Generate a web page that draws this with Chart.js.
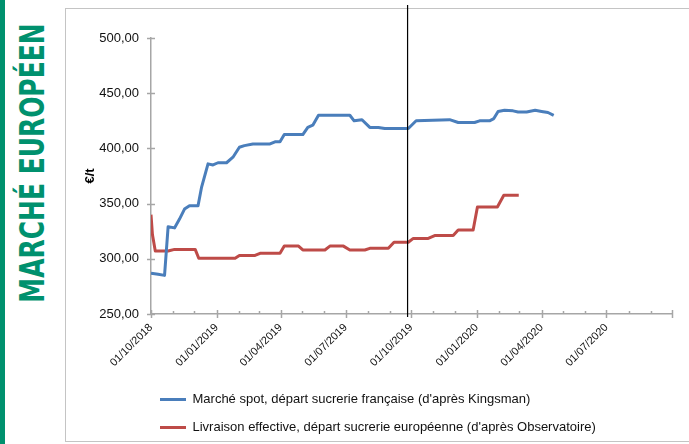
<!DOCTYPE html>
<html>
<head>
<meta charset="utf-8">
<script src="https://cdn.jsdelivr.net/npm/chart.js@4.4.1/dist/chart.umd.min.js"></script>
<style>
  html, body { margin: 0; padding: 0; background: #fff; }
  body { width: 689px; height: 444px; position: relative; overflow: hidden; }
  #bar { position: absolute; left: 0; top: 0; width: 5px; height: 444px; background: #00916e; }
  #title {
    position: absolute; left: 32px; top: 163px;
    font: bold 33px "DejaVu Sans Condensed", "DejaVu Sans", "Liberation Sans", sans-serif;
    font-stretch: condensed;
    line-height: 1; color: #00916e; white-space: nowrap;
    transform-origin: center center;
  }
  #frame { position: absolute; left: 65px; top: 8px; width: 700px; height: 432px; border: 1px solid #c4c4c4; }
  #wrap { position: absolute; left: 66px; top: 0; width: 623px; height: 444px; }
</style>
</head>
<body>
<div id="bar"></div>
<div id="title">MARCHÉ EUROPÉEN</div>
<div id="frame"></div>
<div id="wrap"><canvas id="chart"></canvas></div>
<script>
// data
const seriesLabels = [
  'Marché spot, départ sucrerie française (d\'après Kingsman)',
  'Livraison effective, départ sucrerie européenne (d\'après Observatoire)'
];

const spotDates = ['2018-10-01','2018-10-11','2018-10-20','2018-10-25','2018-11-03','2018-11-10','2018-11-17',
  '2018-11-24','2018-12-06','2018-12-11','2018-12-20','2018-12-27','2019-01-03','2019-01-15','2019-01-24',
  '2019-02-02','2019-02-09','2019-02-21','2019-03-17','2019-03-24','2019-03-31','2019-04-06','2019-05-02',
  '2019-05-09','2019-05-16','2019-05-24','2019-07-07','2019-07-13','2019-07-24','2019-08-04','2019-08-16',
  '2019-08-25','2019-09-27','2019-10-08','2019-11-24','2019-12-06','2019-12-29','2020-01-05','2020-01-19',
  '2020-01-25','2020-01-31','2020-02-09','2020-02-21','2020-02-28','2020-03-11','2020-03-23','2020-04-01',
  '2020-04-10','2020-04-18'];
const spotValues = [287, 286, 285, 329, 328, 336, 345,
  348, 348, 365, 386, 385, 387, 387, 392,
  401, 402.5, 404, 404, 406, 406, 412.5, 412.5,
  419, 421, 430, 430, 425, 426, 419, 419,
  418, 418, 425, 426, 423.5, 423.5, 425, 425,
  427, 433.5, 434.5, 434, 433, 433, 434.5, 433.5,
  432.5, 430];

const livDates = ['2018-10-01','2018-10-03','2018-10-07','2018-10-25','2018-11-03','2018-12-02','2018-12-07',
  '2019-01-27','2019-02-02','2019-02-24','2019-03-03','2019-03-31','2019-04-06','2019-04-26','2019-05-02',
  '2019-06-02','2019-06-09','2019-06-28','2019-07-07','2019-07-28','2019-08-04','2019-08-30','2019-09-07',
  '2019-09-27','2019-10-04','2019-10-25','2019-11-03','2019-11-29','2019-12-06','2019-12-27','2020-01-02',
  '2020-01-30','2020-02-08','2020-02-29'];
const livValues = [340, 322, 307, 307, 308.5, 308.5, 300.5,
  300.5, 303, 303, 305, 305, 311.5, 311.5, 308,
  308, 311.5, 311.5, 308, 308, 309.5, 309.5, 315,
  315, 318.5, 318.5, 321, 321, 326, 326, 347,
  347, 357.5, 357.5];

const xTickDates = ['2018-10-01','2019-01-01','2019-04-01','2019-07-01','2019-10-01','2020-01-01','2020-04-01','2020-07-01'];
const xTickLabels = ['01/10/2018','01/01/2019','01/04/2019','01/07/2019','01/10/2019','01/01/2020','01/04/2020','01/07/2020'];
const xMin = '2018-10-01';
const xMax = '2020-10-01';
const yMin = 250, yMax = 500, yStep = 50;
const markerDate = '2019-09-26';

// title fitted to the length of the band
const title = document.getElementById('title');
const tw = title.offsetWidth;
title.style.transform = 'translate(-50%,-50%) rotate(-90deg) scaleX(' + (279 / tw) + ')';

const toPoints = (dates, vals) => dates.map((d, i) => ({ x: Date.parse(d), y: vals[i] }));

// monthly ticks along the date axis
const monthTicks = [];
{
  const a = new Date(xMin), b = Date.parse(xMax);
  let y = a.getUTCFullYear(), m = a.getUTCMonth();
  while (Date.UTC(y, m, 1) <= b) {
    monthTicks.push(Date.UTC(y, m, 1));
    m++; if (m > 11) { m = 0; y++; }
  }
}
const majorTicks = xTickDates.map(d => Date.parse(d)).concat([Date.parse(xMax)]);

const axisColor = '#a6a6a6';
const font = '"Liberation Sans", Arial, sans-serif';

const tickMarks = {
  id: 'tickMarks',
  afterDraw(chart) {
    const { ctx, scales: { x, y } } = chart;
    ctx.save();
    ctx.strokeStyle = axisColor;
    ctx.lineWidth = 1.5;
    ctx.beginPath();
    y.ticks.forEach(t => {
      const py = Math.round(y.getPixelForValue(t.value)) + 0.5;
      ctx.moveTo(x.left - 4, py); ctx.lineTo(x.left + 4, py);
    });
    const by = y.bottom;
    monthTicks.forEach(v => {
      const px = Math.round(x.getPixelForValue(v)) + 0.5;
      if (majorTicks.includes(v)) { ctx.moveTo(px, by - 4); ctx.lineTo(px, by + 4); }
      else { ctx.moveTo(px, by - 3); ctx.lineTo(px, by); }
    });
    ctx.stroke();
    ctx.restore();
  }
};

const marker = {
  id: 'marker',
  afterDatasetsDraw(chart) {
    const { ctx, scales: { x }, chartArea } = chart;
    const px = x.getPixelForValue(Date.parse(markerDate));
    ctx.save();
    ctx.strokeStyle = '#000';
    ctx.lineWidth = 1.2;
    ctx.beginPath();
    ctx.moveTo(px, 5);
    ctx.lineTo(px, chartArea.bottom + 3);
    ctx.stroke();
    ctx.restore();
  }
};

const legendShift = {
  id: 'legendShift',
  afterLayout(chart) {
    const lg = chart.legend;
    lg.left -= 6; lg.right -= 6;
  }
};

new Chart(document.getElementById('chart'), {
  type: 'line',
  data: {
    datasets: [
      { label: seriesLabels[0], data: toPoints(spotDates, spotValues), borderColor: '#4a7ebb', backgroundColor: '#4a7ebb',
        borderWidth: 3, pointRadius: 0, borderJoinStyle: 'round', fill: false },
      { label: seriesLabels[1], data: toPoints(livDates, livValues), borderColor: '#be4b48', backgroundColor: '#be4b48',
        borderWidth: 3, pointRadius: 0, borderJoinStyle: 'round', fill: false }
    ]
  },
  options: {
    responsive: true,
    maintainAspectRatio: false,
    animation: false,
    layout: { padding: { left: 15, right: 17, top: 38, bottom: 0 } },
    plugins: {
      tooltip: { enabled: false },
      legend: {
        position: 'bottom',
        align: 'start',
        fullSize: false,
        labels: {
          usePointStyle: true,
          pointStyle: 'line',
          pointStyleWidth: 26,
          padding: 15,
          color: '#111',
          font: { family: font, size: 13 }
        }
      }
    },
    scales: {
      x: {
        type: 'linear',
        min: Date.parse(xMin),
        max: Date.parse(xMax),
        afterBuildTicks: s => { s.ticks = monthTicks.map(v => ({ value: v })); },
        afterFit: s => { s.height = 64; },
        grid: { drawOnChartArea: false, drawTicks: false },
        border: { color: axisColor, width: 1.5 },
        ticks: {
          autoSkip: false, maxRotation: 45, minRotation: 45, padding: 7,
          color: '#111',
          font: { family: font, size: 11 },
          callback: v => {
            const i = xTickDates.findIndex(d => Date.parse(d) === v);
            return i >= 0 ? xTickLabels[i] : '';
          }
        }
      },
      y: {
        min: yMin, max: yMax,
        afterFit: s => { s.width = 70; },
        grid: { drawOnChartArea: false, drawTicks: false },
        border: { color: axisColor, width: 1.5 },
        ticks: {
          stepSize: yStep, padding: 12, color: '#111',
          font: { family: font, size: 13 },
          callback: v => v.toFixed(2).replace('.', ',')
        },
        title: {
          display: true, text: '€/t', color: '#000', padding: { top: 2, bottom: 0 },
          font: { family: font, size: 13, weight: 'bold' }
        }
      }
    }
  },
  plugins: [tickMarks, marker, legendShift]
});
</script>
</body>
</html>
